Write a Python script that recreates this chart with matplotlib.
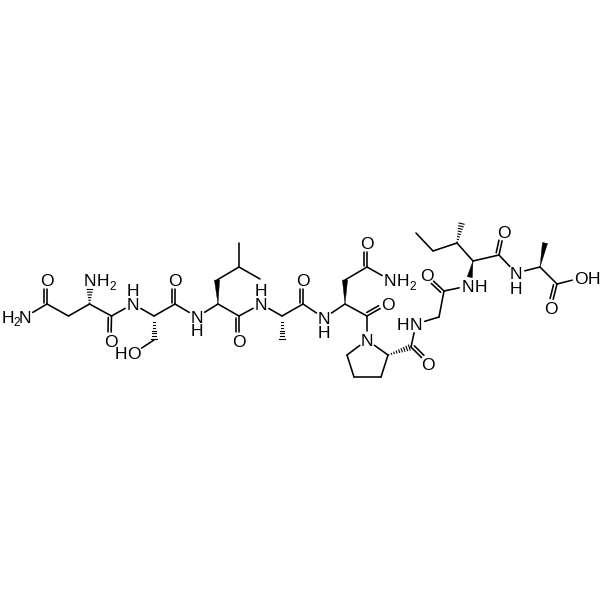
import matplotlib
matplotlib.use("Agg")
import matplotlib.pyplot as plt
import numpy as np

plt.rcParams['font.family'] = ['Liberation Sans', 'DejaVu Sans']

# atom positions
atom_names = ["N1", "C1", "O1", "C2", "C3", "N2", "C4", "O2", "N3", "C5", "C6", "O3", "C7", "O4",
              "N4", "C8", "C9", "C10", "C11", "C12", "C13", "O5", "N5", "C14", "C15", "C16", "O6",
              "N6", "C17", "C18", "C19", "O7", "N7", "C20", "O8", "N8", "C21", "C22", "C23", "C24",
              "C25", "O9", "N9", "C26", "C27", "O10", "N10", "C28", "C29", "C30", "C31", "C32",
              "C33", "O11", "N11", "C34", "C35", "C36", "O12", "O13"]
atom_x = [25, 47, 47, 68.5, 89.5, 90, 111.5, 111, 133, 154, 154, 134, 175, 175,
          197, 218, 217, 239, 239, 260, 239, 239, 261, 282, 282, 303, 303,
          324, 345, 345, 367, 367, 390, 367, 388, 367, 388, 381, 354, 347,
          411, 428, 416, 439, 444, 427, 468, 473, 457, 462, 433, 416,
          499, 504, 516, 540, 545, 557, 581, 551]
atom_y = [317, 304, 280, 316, 304, 280, 316, 341, 304, 316, 340, 353, 304, 280,
          317, 304, 280, 267, 243, 279, 316, 341, 304, 316, 340, 304, 280,
          318, 304, 280, 267, 243, 280, 316, 304, 340, 355, 377, 377, 355,
          347, 364, 324, 317, 291, 275, 286, 261, 243, 222, 251, 233,
          255, 232, 273, 267, 243, 284, 278, 308]

single_bonds = [("N1", "C1"), ("C1", "C2"), ("C2", "C3"), ("C3", "C4"), ("C4", "N3"), ("N3", "C5"),
                ("C6", "O3"), ("C5", "C7"), ("C7", "N4"), ("N4", "C8"), ("C9", "C10"), ("C10", "C11"),
                ("C10", "C12"), ("C8", "C13"), ("C13", "N5"), ("N5", "C14"), ("C14", "C16"), ("C16", "N6"),
                ("N6", "C17"), ("C18", "C19"), ("C19", "N7"), ("C17", "C20"), ("C20", "N8"), ("N8", "C21"),
                ("C21", "C22"), ("C22", "C23"), ("C23", "C24"), ("C24", "N8"), ("C25", "N9"), ("N9", "C26"),
                ("C26", "C27"), ("C27", "N10"), ("C28", "C29"), ("C29", "C31"), ("C31", "C32"), ("C28", "C33"),
                ("C33", "N11"), ("N11", "C34"), ("C34", "C36"), ("C36", "O12")]
double_bonds = [("C1", "O1", -1), ("C4", "O2", 1), ("C7", "O4", -1), ("C13", "O5", 1), ("C16", "O6", -1),
                ("C19", "O7", -1), ("C20", "O8", -1), ("C25", "O9", -1), ("C27", "O10", -1), ("C33", "O11", -1),
                ("C36", "O13", 1)]
wedge_bonds = [("C8", "C9"), ("C17", "C18"), ("C28", "N10"), ("C34", "C35")]
hash_bonds = [("C3", "N2"), ("C5", "C6"), ("C14", "C15"), ("C21", "C25"), ("C29", "C30")]

# H and H2 parts of the labels, placed relative to the heteroatom
heavy_labels = {"N1": "N", "O1": "O", "N2": "N", "O2": "O", "N3": "N", "O3": "O", "O4": "O", "N4": "N",
                "O5": "O", "N5": "N", "O6": "O", "N6": "N", "O7": "O", "N7": "N", "O8": "O", "N8": "N",
                "O9": "O", "N9": "N", "O10": "O", "N10": "N", "O11": "O", "N11": "N", "O12": "O", "O13": "O"}
h_owner = ["N1", "N2", "N3", "O3", "N4", "N5", "N6", "N7", "N9", "N10", "N11", "O12"]
h_dx = [-17, 12.5, 0, -13, 0, 0, 0, 12.5, -13, 13, 0, 12.5]
h_dy = [0, 0, -14, 0, 13.5, -14, 14, 0, 0, 0, 15, 0]
sub_owner = ["N1", "N2", "N7"]
sub_dx = [-8.5, 22.5, 22.5]
sub_dy = [5, 5, 5]

fig = plt.figure(figsize=(6, 6), dpi=100)
ax = fig.add_axes([0, 0, 1, 1])
ax.set_xlim(0, 600)
ax.set_ylim(600, 0)
ax.axis("off")

pos = {n: np.array([x, y], dtype=float) for n, x, y in zip(atom_names, atom_x, atom_y)}
trim = 9.0
lw = 1.15


def ends(a, b):
    # pull the bond back from atoms that carry a label
    p, q = pos[a].copy(), pos[b].copy()
    u = (q - p) / np.linalg.norm(q - p)
    if a in heavy_labels:
        p = p + u * trim
    if b in heavy_labels:
        q = q - u * trim
    return p, q, u


for a, b in single_bonds:
    p, q, u = ends(a, b)
    ax.plot([p[0], q[0]], [p[1], q[1]], color="black", lw=lw, solid_capstyle="round")

for a, b, side in double_bonds:
    p, q, u = ends(a, b)
    n = np.array([-u[1], u[0]]) * side
    ax.plot([p[0], q[0]], [p[1], q[1]], color="black", lw=lw, solid_capstyle="round")
    p2 = p + n * 3.2 + u * 1.5
    q2 = q + n * 3.2
    ax.plot([p2[0], q2[0]], [p2[1], q2[1]], color="black", lw=lw, solid_capstyle="round")

for a, b in wedge_bonds:
    p, q, u = ends(a, b)
    n = np.array([-u[1], u[0]])
    ax.fill([p[0], q[0] + n[0] * 2.6, q[0] - n[0] * 2.6], [p[1], q[1] + n[1] * 2.6, q[1] - n[1] * 2.6],
            color="black", lw=0.3)

for a, b in hash_bonds:
    p, q, u = ends(a, b)
    n = np.array([-u[1], u[0]])
    length = np.linalg.norm(q - p)
    for d in np.arange(1.0, length, 2.7):
        c = p + u * d
        w = 2.8 * d / length
        ax.plot([c[0] - n[0] * w, c[0] + n[0] * w], [c[1] - n[1] * w, c[1] + n[1] * w], color="black", lw=0.8)

for at, s in heavy_labels.items():
    ax.text(pos[at][0], pos[at][1], s, fontsize=12.5, ha="center", va="center_baseline", color="black")
for at, dx, dy in zip(h_owner, h_dx, h_dy):
    ax.text(pos[at][0] + dx, pos[at][1] + dy, "H", fontsize=12.5, ha="center", va="center_baseline", color="black")
for at, dx, dy in zip(sub_owner, sub_dx, sub_dy):
    ax.text(pos[at][0] + dx, pos[at][1] + dy, "2", fontsize=8.5, ha="center", va="center_baseline", color="black")

fig.savefig("out.png", dpi=100, facecolor="white")
